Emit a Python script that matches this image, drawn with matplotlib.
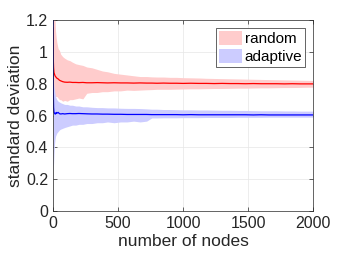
import matplotlib
matplotlib.use("Agg")
import matplotlib.pyplot as plt
from matplotlib.patches import Patch

plt.rcParams["font.family"] = ["Liberation Sans", "DejaVu Sans"]

nodes = [1, 3, 5, 8, 12, 16, 20, 25, 30, 40, 50, 60, 75, 90, 110, 130, 150, 175,
         200, 230, 260, 300, 340, 380, 420, 470, 520, 570, 620, 670, 720, 760,
         800, 850, 900, 950, 1000, 1060, 1120, 1180, 1240, 1300, 1360, 1420,
         1480, 1540, 1600, 1660, 1720, 1780, 1840, 1900, 1960, 2000]

random_mean = [1.15, 0.95, 0.90, 0.87, 0.86, 0.85, 0.845, 0.84, 0.835, 0.83,
               0.822, 0.818, 0.813, 0.81, 0.809, 0.81, 0.808, 0.808, 0.807,
               0.808, 0.806, 0.806, 0.807, 0.806, 0.805, 0.806, 0.805, 0.805,
               0.804, 0.805, 0.804, 0.804, 0.803, 0.804, 0.803, 0.803, 0.802,
               0.803, 0.802, 0.802, 0.801, 0.802, 0.801, 0.801, 0.800, 0.801,
               0.800, 0.800, 0.800, 0.799, 0.800, 0.799, 0.799, 0.799]
random_upper = [1.25, 1.25, 1.25, 1.25, 1.23, 1.2, 1.13, 1.09, 1.06, 1.02,
                1.01, 0.985, 0.97, 0.96, 0.95, 0.945, 0.935, 0.925, 0.92,
                0.915, 0.905, 0.9, 0.89, 0.88, 0.875, 0.865, 0.86, 0.855,
                0.85, 0.845, 0.845, 0.843, 0.842, 0.842, 0.84, 0.84, 0.838,
                0.837, 0.836, 0.834, 0.833, 0.832, 0.831, 0.83, 0.829, 0.828,
                0.827, 0.826, 0.825, 0.824, 0.823, 0.822, 0.821, 0.82]
random_lower = [0.55, 0.65, 0.68, 0.70, 0.71, 0.71, 0.72, 0.72, 0.72, 0.71,
                0.70, 0.70, 0.69, 0.695, 0.69, 0.70, 0.70, 0.705, 0.71, 0.705,
                0.74, 0.745, 0.745, 0.75, 0.75, 0.755, 0.755, 0.76, 0.758,
                0.76, 0.762, 0.763, 0.765, 0.765, 0.765, 0.766, 0.767, 0.768,
                0.768, 0.769, 0.77, 0.77, 0.771, 0.772, 0.772, 0.773, 0.774,
                0.774, 0.775, 0.776, 0.776, 0.777, 0.778, 0.778]

adaptive_mean = [1.2, 0.75, 0.65, 0.62, 0.615, 0.61, 0.61, 0.62, 0.615, 0.62,
                 0.612, 0.61, 0.612, 0.61, 0.612, 0.613, 0.612, 0.612, 0.613,
                 0.612, 0.611, 0.61, 0.61, 0.609, 0.609, 0.608, 0.608, 0.607,
                 0.607, 0.607, 0.607, 0.606, 0.606, 0.606, 0.606, 0.606,
                 0.605, 0.606, 0.605, 0.605, 0.605, 0.605, 0.605, 0.605,
                 0.605, 0.604, 0.605, 0.604, 0.604, 0.604, 0.604, 0.604,
                 0.604, 0.604]
adaptive_upper = [1.0, 0.85, 0.80, 0.78, 0.76, 0.74, 0.72, 0.71, 0.70, 0.69,
                  0.685, 0.68, 0.675, 0.67, 0.67, 0.665, 0.665, 0.66, 0.66,
                  0.655, 0.655, 0.652, 0.65, 0.65, 0.648, 0.648, 0.646, 0.645,
                  0.645, 0.644, 0.642, 0.64, 0.64, 0.638, 0.638, 0.637, 0.636,
                  0.636, 0.635, 0.635, 0.634, 0.633, 0.633, 0.632, 0.632,
                  0.631, 0.63, 0.63, 0.63, 0.629, 0.629, 0.628, 0.628, 0.628]
adaptive_lower = [0.25, 0.28, 0.30, 0.36, 0.42, 0.45, 0.47, 0.48, 0.49, 0.50,
                  0.51, 0.515, 0.52, 0.525, 0.53, 0.535, 0.54, 0.54, 0.545,
                  0.545, 0.55, 0.55, 0.555, 0.555, 0.56, 0.555, 0.56, 0.56,
                  0.565, 0.56, 0.565, 0.585, 0.585, 0.586, 0.586, 0.586,
                  0.587, 0.587, 0.587, 0.588, 0.588, 0.588, 0.588, 0.589,
                  0.589, 0.589, 0.589, 0.59, 0.59, 0.59, 0.59, 0.59, 0.59,
                  0.59]

fig = plt.figure(figsize=(3.46, 2.6), dpi=100)
ax = fig.add_axes([0.153, 0.188, 0.752, 0.735])

ax.fill_between(nodes, random_lower, random_upper, color="#ffcccc",
                linewidth=0)
ax.fill_between(nodes, adaptive_lower, adaptive_upper, color="#ccccff",
                linewidth=0)
ax.plot(nodes, random_mean, color="red", linewidth=0.9)
ax.plot(nodes, adaptive_mean, color="blue", linewidth=0.9)

ax.set_xlim(0, 2000)
ax.set_ylim(0, 1.2)
ax.set_xticks([0, 500, 1000, 1500, 2000])
ax.set_yticks([0, 0.2, 0.4, 0.6, 0.8, 1, 1.2])
ax.set_yticklabels(["0", "0.2", "0.4", "0.6", "0.8", "1", "1.2"])
ax.tick_params(direction="in", length=3, width=0.5, top=True, right=True,
               labelsize=11.5, colors="0.15", labelcolor="0.15")
ax.grid(True, color="0.9", linewidth=0.5)
ax.set_axisbelow(True)
for s in ax.spines.values():
    s.set_linewidth(0.5)
    s.set_color("0.15")

ax.set_xlabel("number of nodes", fontsize=12.5, color="0.15", labelpad=2)
ax.set_ylabel("standard deviation", fontsize=12.5, color="0.15", labelpad=2)

handles = [Patch(facecolor="#ffcccc", edgecolor="none", label="random"),
           Patch(facecolor="#ccccff", edgecolor="none", label="adaptive")]
leg = ax.legend(handles=handles, loc="upper right", fontsize=11,
                fancybox=False, framealpha=1, edgecolor="0.15",
                handlelength=1.5, handleheight=1.1, handletextpad=0.2,
                borderpad=0.2, labelspacing=0.15, borderaxespad=0.5)
leg.get_frame().set_linewidth(0.5)

fig.savefig("out.png", dpi=100)
